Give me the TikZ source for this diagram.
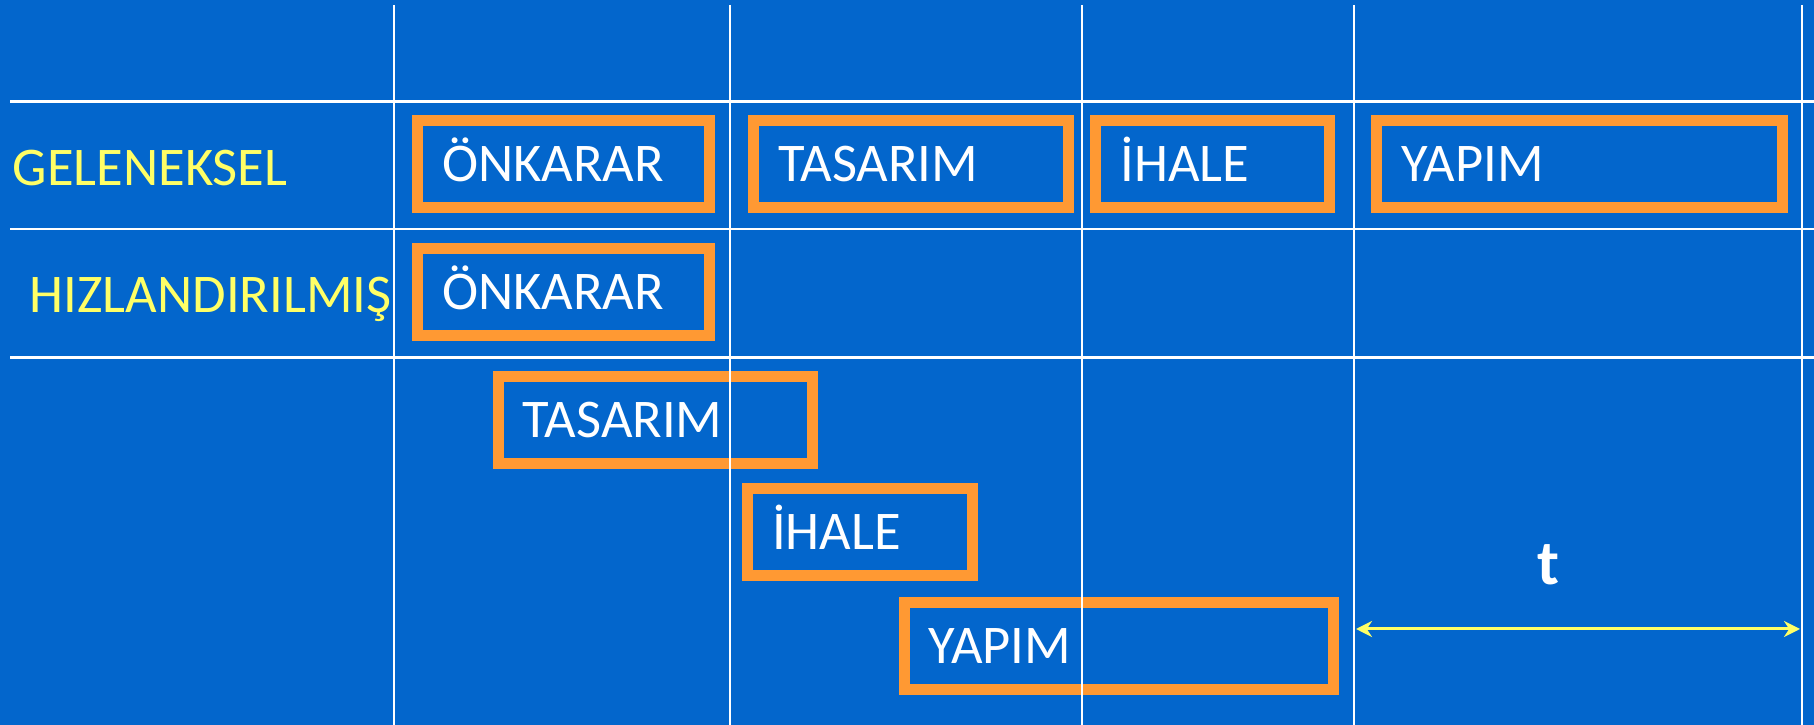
\documentclass[tikz,border=0pt]{standalone}
\usepackage{fontspec}
\setmainfont{Carlito}
\usetikzlibrary{arrows.meta,positioning}
\definecolor{planBlue}{HTML}{0366CC}
\definecolor{planOrange}{HTML}{FF9933}
\definecolor{planYellow}{HTML}{FFFF66}

\begin{document}
\begin{tikzpicture}[x=0.01cm,y=-0.01cm,every node/.style={font=\fontsize{15.5}{18}\selectfont}]
      \tikzstyle{ph}=[draw=planOrange,line width=0.11cm,text=white,inner xsep=0.245cm,
                      inner ysep=0pt,minimum height=0.87cm,text height=0.35cm,text depth=0pt,
                      align=left]
      \tikzstyle{row}=[text=planYellow,inner sep=0pt,text height=0.35cm,text depth=0pt,anchor=west]
      \fill[planBlue] (0,0) rectangle (1814,725);
      \useasboundingbox (0,0) rectangle (1814,725);
      % row labels
      \node[row] (gel) at (12,167.5) {GELENEKSEL};
      \node[row] (hiz) at (29,295) {HIZLANDIRILMIŞ};
      % one after the other
      \node[ph,text width=2.425cm,anchor=west] (on1) at (412,164) {ÖNKARAR};
      \node[ph,text width=2.66cm,right=0.335cm of on1] (tas1) {TASARIM};
      \node[ph,text width=1.845cm,right=0.16cm of tas1] (iha1) {İHALE};
      \node[ph,text width=3.565cm,right=0.36cm of iha1] (yap1) {YAPIM};
      % overlapping
      \node[ph,text width=2.425cm,below=0.303cm of on1] (on2) {ÖNKARAR};
      \node[ph,text width=2.655cm,anchor=north west] (tas2) at (492.5,371) {TASARIM};
      \node[ph,text width=1.76cm,anchor=north west] (iha2) at (742,483.3) {İHALE};
      \node[ph,text width=3.80cm,anchor=north west] (yap2) at (898.5,597.3) {YAPIM};
      % grid
      \foreach \x in {394,730,1082,1354,1802}
        \draw[white,line width=0.025cm] (\x,5) -- (\x,725);
      \foreach \y in {101.5,229,357.5}
        \draw[white,line width=0.025cm] (10,\y) -- (1814,\y);
      % time saved
      \coordinate (ta) at (1356,629);
      \coordinate (tb) at (1800,629);
      \draw[planYellow,line width=0.03cm,
            {Stealth[length=0.16cm,width=0.16cm]}-{Stealth[length=0.16cm,width=0.16cm]}] (ta) -- (tb);
      \node[text=white,anchor=south,inner sep=0pt,font=\fontsize{18}{20}\bfseries] (tlen) at (1548,586) {t};
    \end{tikzpicture}
\end{document}
